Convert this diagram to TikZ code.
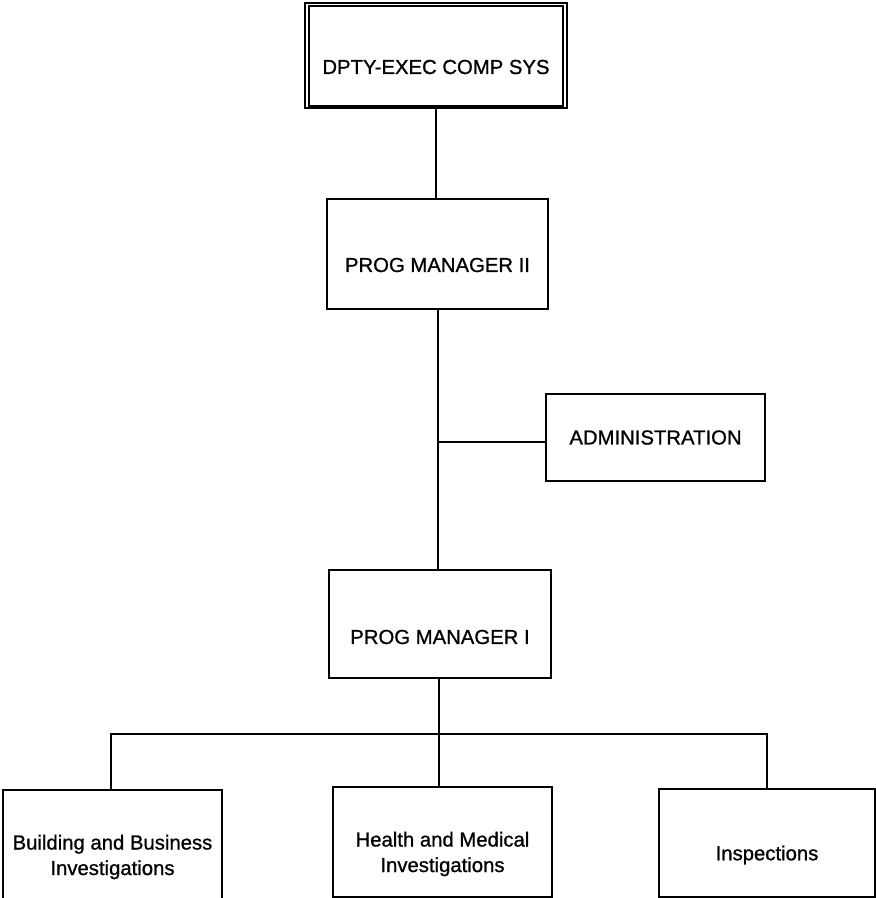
\documentclass[tikz,border=0pt]{standalone}
\usepackage{fontspec}
\setmainfont{Liberation Sans}
\newfontfamily\lblfont{Liberation Sans}[FakeBold=0.9]
\begin{document}
\begin{tikzpicture}[x=1pt,y=-1pt,
  box/.style={draw, line width=2pt, rectangle, inner sep=0pt},
  lbl/.style={align=center, inner sep=0pt, font=\lblfont\fontsize{20.3}{25.5}\selectfont},
  link/.style={line width=2pt}]
\useasboundingbox (0,0) rectangle (876,898);

% top box with a double frame
\node[box, line width=1.8pt, minimum width=262pt, minimum height=105pt] (dpty) at (436,55.5) {};
\draw[line width=1.4pt] ([xshift=5pt,yshift=-4pt]dpty.north west) rectangle ([xshift=-5pt,yshift=3pt]dpty.south east);
\node[lbl] at ([yshift=-11.5pt]dpty.center) {DPTY-EXEC COMP SYS};

\node[box, minimum width=221pt, minimum height=110pt] (pm2) at (437.5,254) {};
\node[lbl] at ([yshift=-11pt]pm2.center) {PROG MANAGER II};

\node[box, minimum width=219pt, minimum height=87pt] (admin) at (655.5,437.5) {};
\node[lbl] at (admin.center) {ADMINISTRATION};

\node[box, minimum width=222pt, minimum height=108pt] (pm1) at (440,624) {};
\node[lbl] at ([yshift=-13pt]pm1.center) {PROG MANAGER I};

\node[box, minimum width=219pt, minimum height=110pt] (bbi) at (112.5,845) {};
\node[lbl] at ([yshift=-12pt]bbi.center) {Building and Business\\Investigations};

\node[box, minimum width=219pt, minimum height=110pt] (hmi) at (442.5,842) {};
\node[lbl] at ([yshift=-12pt]hmi.center) {Health and Medical\\Investigations};

\node[box, minimum width=216pt, minimum height=108pt] (insp) at (767,843) {};
\node[lbl] at ([yshift=-12pt]insp.center) {Inspections};

% connectors
\coordinate (tee) at (438,442);
\coordinate (busL) at (111,734);
\coordinate (busM) at (439,734);
\coordinate (busR) at (767,734);

\draw[link] (dpty.south -| 436,0) -- (pm2.north -| 436,0);
\draw[link] (pm2.south -| tee) -- (pm1.north -| tee);
\draw[link] (tee) -- (tee -| admin.west);
\draw[link] (pm1.south -| busM) -- (busM);
\draw[link] (bbi.north -| busL) -- (busL) -- (busR) -- (insp.north -| busR);
\draw[link] (busM) -- (hmi.north -| busM);
\end{tikzpicture}
\end{document}
